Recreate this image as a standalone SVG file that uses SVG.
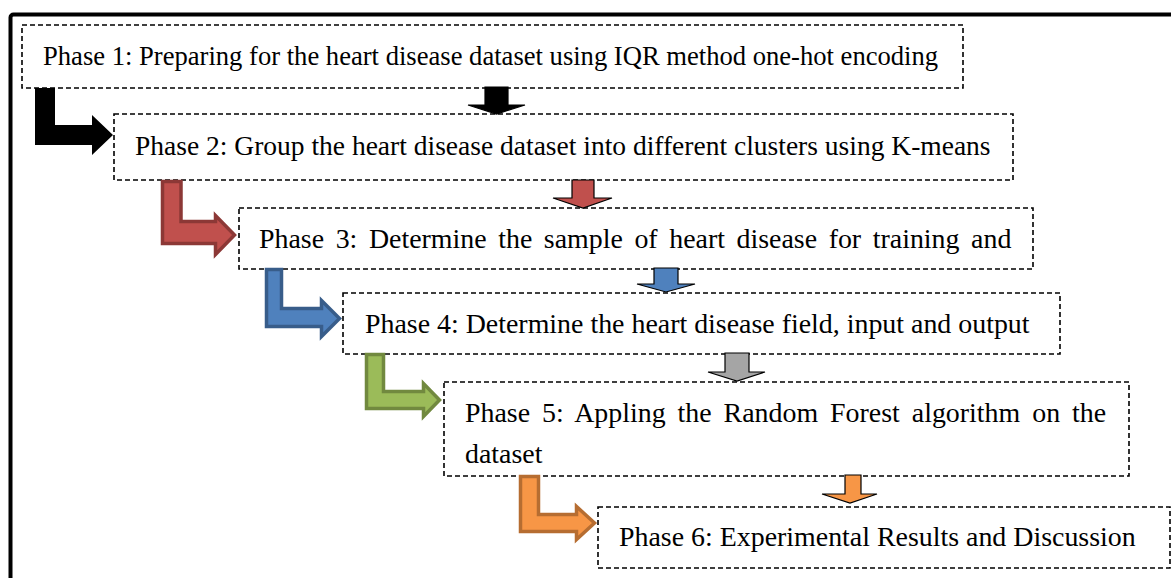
<svg xmlns="http://www.w3.org/2000/svg" width="1171" height="578" viewBox="0 0 1171 578">
<style>
.box{fill:#fff;stroke:#000;stroke-width:1.6;stroke-dasharray:5,3}
.t{font-family:"Liberation Serif","Times New Roman",serif;fill:#000}
.down{stroke:#000;stroke-width:1.2;stroke-linejoin:miter}
.bent{stroke-width:3.5;stroke-linejoin:miter}
</style>
<rect x="0" y="0" width="1171" height="578" fill="#fff"/>
<rect x="10.5" y="14.5" width="1200" height="620" rx="3" fill="none" stroke="#000" stroke-width="4"/>
<g id="phase1"><rect class="box" x="22" y="25" width="941" height="63"/><text class="t" x="43" y="65" font-size="26.6">Phase 1: Preparing for the heart disease dataset using IQR method one-hot encoding</text></g>
<g id="phase2"><rect class="box" x="114" y="114" width="899" height="66"/><text class="t" x="135" y="155" font-size="27.5">Phase 2: Group the heart disease dataset into different clusters using K-means</text></g>
<g id="phase3"><rect class="box" x="239" y="208" width="794" height="61"/><text class="t" x="259" y="248" font-size="27.9" word-spacing="4.6">Phase 3: Determine the sample of heart disease for training and</text></g>
<g id="phase4"><rect class="box" x="343" y="293" width="717" height="61"/><text class="t" x="365" y="333" font-size="27.9">Phase 4: Determine the heart disease field, input and output</text></g>
<g id="phase5"><rect class="box" x="444" y="382" width="685" height="94"/><text class="t" x="465" y="422" font-size="27.9" word-spacing="5">Phase 5: Appling the Random Forest algorithm on the</text><text class="t" x="465" y="463" font-size="27.9">dataset</text></g>
<g id="phase6"><rect class="box" x="598" y="507" width="572" height="61"/><text class="t" x="619" y="546" font-size="27.9">Phase 6: Experimental Results and Discussion</text></g>
<g id="connectors">
<polygon class="down" fill="#000" points="485,87 508,87 508,105 525,105 496.5,114 468,105 485,105"/>
<polygon class="down" fill="#C0504D" points="572,180 594,180 594,198 612,198 583,208 553,198 572,198"/>
<polygon class="down" fill="#4F81BD" points="654,268 678,268 678,284 695,284 666,292 637,284 654,284"/>
<polygon class="down" fill="#A5A5A5" points="725,353 749,353 749,372 765,372 737,381 708,372 725,372"/>
<polygon class="down" fill="#F79646" points="845,475 861,475 861,494 877,494 850,503 822,494 845,494"/>
<polygon fill="#000" points="35,88 55,88 55,125 92,125 92,115 113,135 92,155 92,145 35,145"/>
<polygon class="bent" fill="#C0504D" stroke="#8C3836" points="162.5,181.5 181,181.5 181,221.5 215.5,221.5 215.5,215.5 234.5,235 215.5,254.5 215.5,243.5 162.5,243.5"/>
<polygon class="bent" fill="#4F81BD" stroke="#385D8A" points="266.5,269.5 281.5,269.5 281.5,308.5 321.5,308.5 321.5,300.5 339.5,318.5 321.5,336.5 321.5,326.5 266.5,326.5"/>
<polygon class="bent" fill="#9BBB59" stroke="#71893F" points="366.5,354.5 383.5,354.5 383.5,391.5 423.5,391.5 423.5,383.5 439.5,400 423.5,416.5 423.5,408.5 366.5,408.5"/>
<polygon class="bent" fill="#F79646" stroke="#B66D31" points="520.5,476.5 538.5,476.5 538.5,514.5 576.5,514.5 576.5,506.5 594.5,523 576.5,539.5 576.5,531.5 520.5,531.5"/>
</g>
</svg>
